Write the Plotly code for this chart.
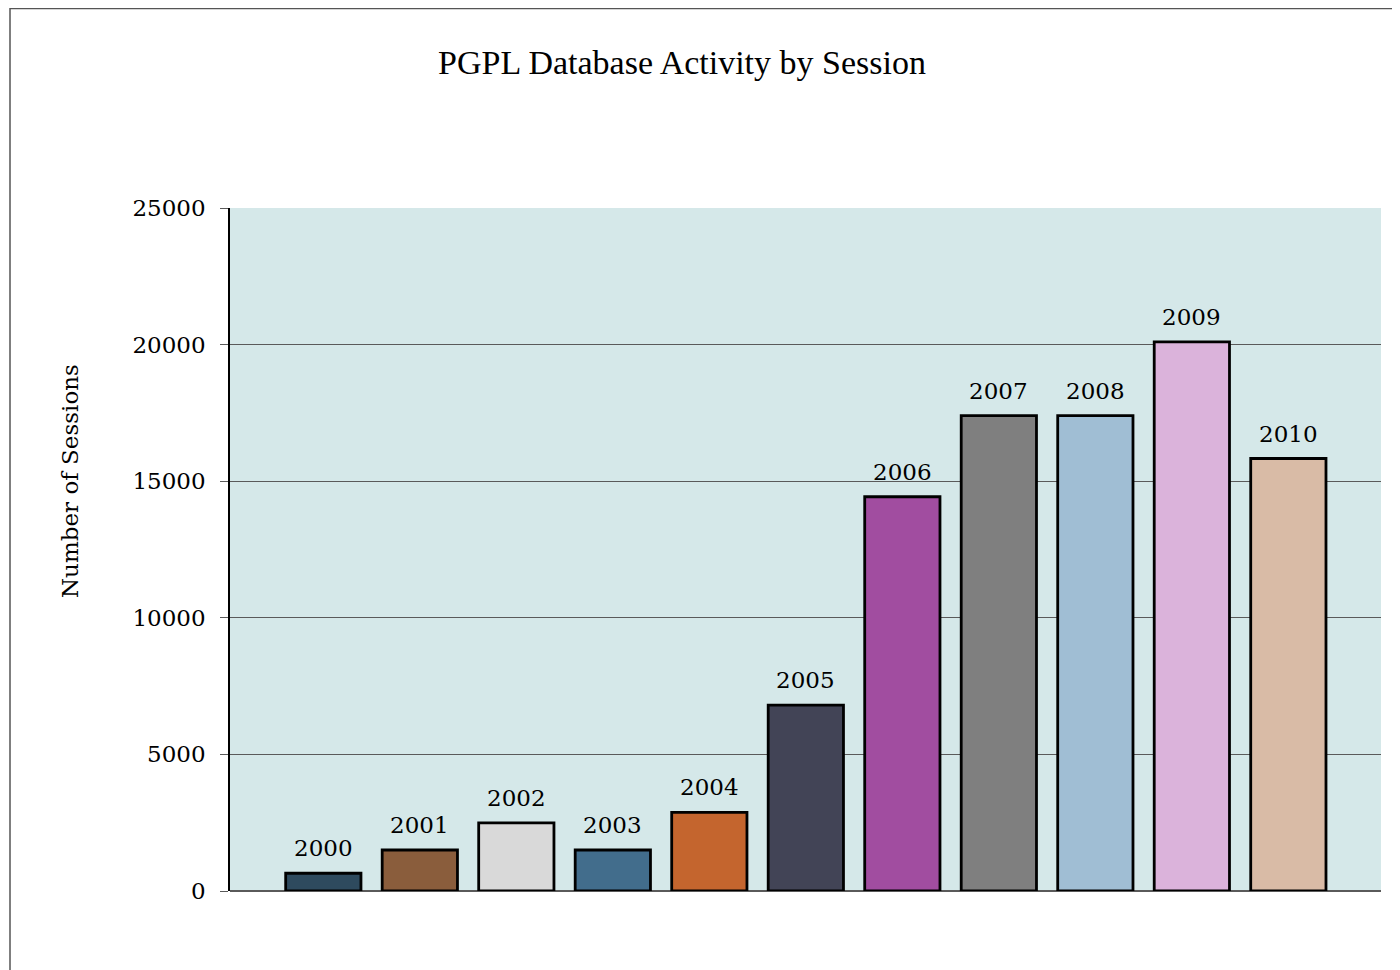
import plotly.graph_objects as go

years = ["2000", "2001", "2002", "2003", "2004", "2005", "2006", "2007", "2008", "2009", "2010"]
sessions = [650, 1500, 2490, 1500, 2880, 6800, 14430, 17400, 17400, 20100, 15830]
colors = ["#2E4A5E", "#8A5D3C", "#D9D9D9", "#426D8C", "#C4652E", "#424456",
          "#A14DA0", "#7F7F7F", "#A0BED4", "#DBB3DB", "#D9BBA6"]
y_ticks = [0, 5000, 10000, 15000, 20000, 25000]
y_title = "Number of Sessions"

TFONT = "Liberation Serif, Georgia, serif"
NFONT = "DejaVu Serif, Georgia, serif"
W, H = 1392, 962
L, R, T, B = 222, 19, 200, 79
pw, ph = W - L - R, H - T - B

xs = list(range(len(years)))
fig = go.Figure()
fig.add_trace(go.Bar(
    x=xs, y=sessions, width=0.78,
    marker=dict(color=colors, line=dict(color="black", width=2.8)),
    hoverinfo="y", showlegend=False,
))
for xi, v, lab in zip(xs, sessions, years):
    fig.add_annotation(x=xi, y=v, text=lab, showarrow=False, yanchor="bottom",
                       yshift=10, font=dict(family=NFONT, size=23, color="black"))

# y-axis title (placed above centre as in the original)
fig.add_annotation(xref="paper", yref="paper", x=(62 - L) / pw, y=(H - B - 473) / ph,
                   text=y_title, textangle=-90, showarrow=False,
                   xanchor="center", yanchor="middle",
                   font=dict(family=NFONT, size=23, color="black"))

# outer frame
fig.add_shape(type="rect", xref="paper", yref="paper",
              x0=(2 - L) / pw, x1=1.2, y0=-0.3, y1=(H - B - 0.5) / ph,
              line=dict(color="#555555", width=1.5), layer="below")

fig.update_layout(
    width=W, height=H,
    margin=dict(l=L, r=R, t=T, b=B),
    paper_bgcolor="white", plot_bgcolor="#D5E8E9",
    title=dict(text="PGPL Database Activity by Session", x=(674 - L) / pw, xref="paper",
               xanchor="center", y=1 - 54 / H, yanchor="middle",
               font=dict(family=TFONT, size=34, color="black")),
    bargap=0.22,
    xaxis=dict(range=[-0.967, 10.96], showticklabels=False, showgrid=False,
               zeroline=False, showline=False, ticks=""),
    yaxis=dict(range=[0, 25000], tickvals=y_ticks, ticktext=[str(t) for t in y_ticks],
               showgrid=True, gridcolor="#5A5A5A", gridwidth=1,
               zeroline=True, zerolinecolor="#5A5A5A", zerolinewidth=1.5,
               showline=True, linecolor="black", linewidth=1.5,
               ticks="outside", ticklen=8, tickcolor="#5A5A5A",
               ticklabelstandoff=10,
               tickfont=dict(family=NFONT, size=23, color="black")),
    font=dict(family=NFONT),
)
fig.write_html("out.html")
